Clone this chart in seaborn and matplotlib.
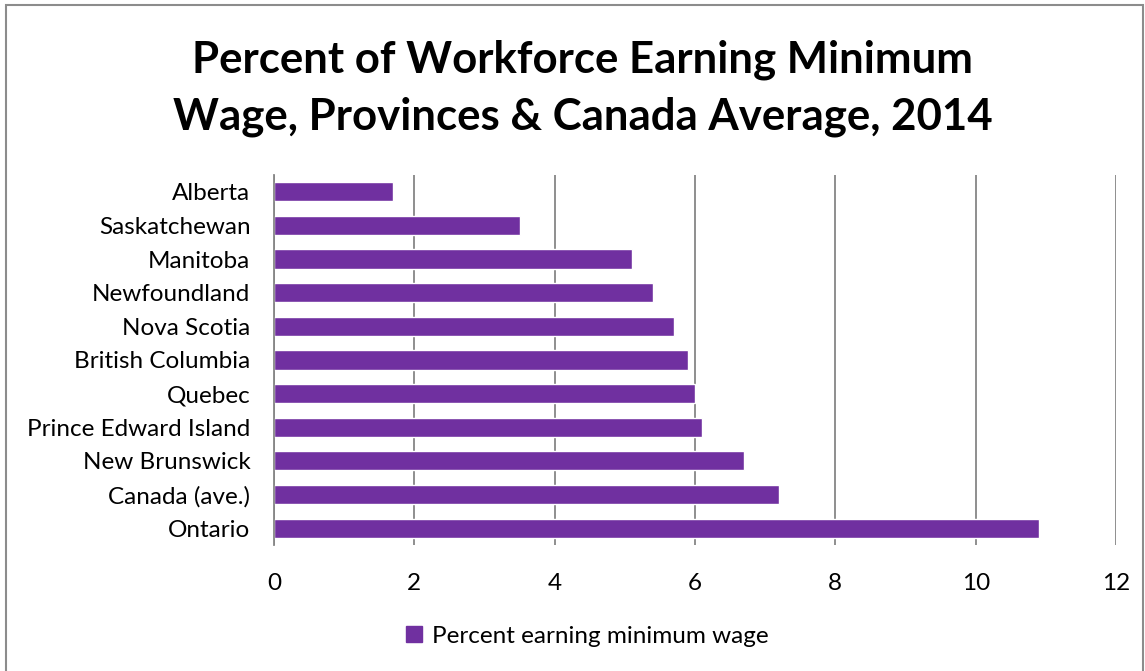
import matplotlib
matplotlib.use("Agg")
import matplotlib.pyplot as plt
import matplotlib.patches as mpatches
import seaborn as sns
import pandas as pd

regions = ["Alberta", "Saskatchewan", "Manitoba", "Newfoundland", "Nova Scotia",
           "British Columbia", "Quebec", "Prince Edward Island", "New Brunswick",
           "Canada (ave.)", "Ontario"]
pct_min_wage = [1.7, 3.5, 5.1, 5.4, 5.7, 5.9, 6.0, 6.1, 6.7, 7.2, 10.9]
x_ticks = [0, 2, 4, 6, 8, 10, 12]
series_name = "Percent earning minimum wage"
title = "Percent of Workforce Earning Minimum\nWage, Provinces & Canada Average, 2014"

df = pd.DataFrame({"region": regions, "pct": pct_min_wage})

sns.set_theme(style="white")
plt.rcParams["font.family"] = ["Lato", "DejaVu Sans"]
plt.rcParams["text.color"] = "black"

purple = "#7030A0"
grid_gray = "#868686"

fig = plt.figure(figsize=(11.45, 6.71), dpi=100)
ax = fig.add_axes([0.2393, 0.1878, 0.7354, 0.5514])

sns.barplot(data=df, x="pct", y="region", orient="h", color=purple,
            saturation=1, width=0.57, ax=ax)

ax.set_xlim(0, 12)
ax.set_xticks(x_ticks)
ax.set_xticklabels([str(t) for t in x_ticks], fontsize=17.5, color="black")
ax.tick_params(axis="y", labelsize=17.5, colors="black", length=0, pad=17)
ax.tick_params(axis="x", length=0, pad=20)
ax.set_xlabel("")
ax.set_ylabel("")
ax.set_ylim(len(regions) - 0.5, -0.5)

ax.xaxis.grid(True, color=grid_gray, linewidth=1.3)
ax.set_axisbelow(True)
for side in ["top", "right", "bottom"]:
    ax.spines[side].set_visible(False)
ax.spines["left"].set_color(grid_gray)
ax.spines["left"].set_linewidth(1.3)

fig.text(0.509, 0.869, title, ha="center", va="center", fontsize=31.5,
         fontweight="bold", linespacing=1.5, color="black")

handle = mpatches.Patch(color=purple, label=series_name)
leg = fig.legend(handles=[handle], loc="center", bbox_to_anchor=(0.513, 0.052),
                 frameon=False, fontsize=17.5, handlelength=0.65, handleheight=0.65,
                 handletextpad=0.45)
for t in leg.get_texts():
    t.set_color("black")

border = mpatches.Rectangle((0.005, -0.05), 0.993, 1.042, transform=fig.transFigure,
                            fill=False, edgecolor="#8c8c8c", linewidth=1.5)
fig.patches.append(border)

fig.savefig("out.png", dpi=100)
